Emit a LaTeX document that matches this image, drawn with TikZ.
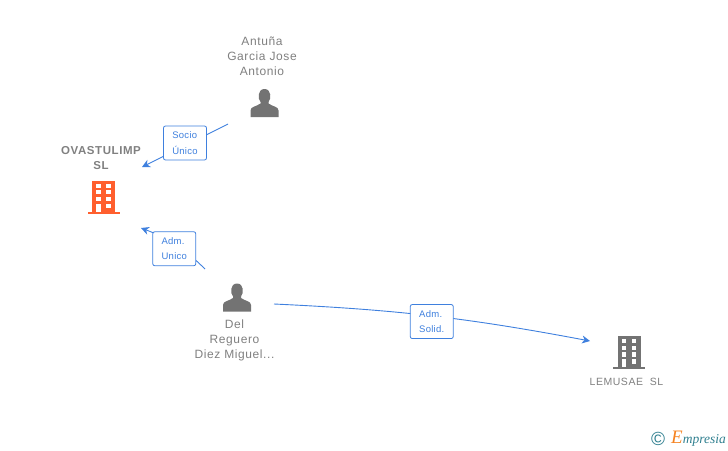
\documentclass[tikz,border=0pt]{standalone}
\usepackage{fontspec}
\setmainfont{Liberation Sans}[LetterSpace=5]
\newfontfamily\tagfont{Liberation Sans}[LetterSpace=3]
\newfontfamily\logofont{Liberation Serif}
\usetikzlibrary{positioning,arrows.meta}
\definecolor{linkblue}{HTML}{3F80DE}
\definecolor{namegray}{HTML}{808080}
\definecolor{icongray}{HTML}{737373}
\definecolor{firmorange}{HTML}{FF5F2E}
\definecolor{logoteal}{HTML}{2F7F8F}
\definecolor{logoorange}{HTML}{F58220}

\begin{document}
\begin{tikzpicture}[x=1pt,y=-1pt,font=\fontsize{12}{15}\selectfont]
        % Setup the styles
        \tikzset{name style/.style={align=center,
                                    text=namegray,
                                    inner sep=0pt},
                 firm style/.style={name style,
                                    font=\fontsize{11.5}{15}\selectfont\bfseries},
                 tag style/.style={draw=linkblue,
                                   fill=white,
                                   text=linkblue,
                                   line width=0.8pt,
                                   rounded corners=2pt,
                                   align=left,
                                   minimum width=43pt,
                                   minimum height=34pt,
                                   inner sep=0pt,
                                   font=\tagfont\fontsize{9.5}{15.5}\selectfont},
                 link style/.style={-{Stealth[length=8pt,width=8pt,inset=2.5pt]},
                                    line width=0.9pt,
                                    color=linkblue},
                 person/.pic={
                     \fill[icongray] (-14,14) -- (-14,7.5) .. controls (-14,3.5) and (-8,3.5) .. (-4,0.5)
                         -- (-4,-1) .. controls (-7,-4) and (-7,-14) .. (0,-14)
                         .. controls (7,-14) and (7,-4) .. (4,-1) -- (4,0.5)
                         .. controls (8,3.5) and (14,3.5) .. (14,7.5) -- (14,14) -- cycle;},
                 building/.pic={
                     \fill[pic actions] (-16,14.5) rectangle (16,16.5);
                     \fill[pic actions] (-11.5,-16.5) rectangle (11.5,15);
                     \foreach \wy in {-13.5,-6.8,-0.1} {
                         \fill[white] (-7.5,\wy) rectangle (-3,\wy+4.2);
                         \fill[white] (2.5,\wy) rectangle (7,\wy+4.2);
                     }
                     \fill[white] (-7.5,6.8) rectangle (-3,14.5);
                     \fill[white] (2.5,6.8) rectangle (7,11);}}

        \useasboundingbox (0,0) rectangle (728,450);

        % Draw the names
        \node[name style] at (262,56)    (antuna)     {Antuña\\Garcia Jose\\Antonio};
        \node[firm style] at (101,158)   (ovastulimp) {OVASTULIMP\\SL};
        \node[name style] at (234.5,340) (delreguero) {Del\\Reguero\\Diez Miguel...};
        \node[firm style,font=\fontsize{10.5}{15}\selectfont] at (626.5,382) (lemusae) {LEMUSAE\ \ SL};

        % Draw the icons
        \pic[] at (264.5,103) {person};
        \pic[] at (237,297.5) {person};
        \pic[fill=firmorange] at (103.5,197) {building};
        \pic[fill=icongray] at (629,352.5) {building};

        % Free ends of the arrows
        \coordinate (antuna out)     at (228,124);
        \coordinate (ovastulimp top) at (142,167);
        \coordinate (delreguero up)  at (205,269);
        \coordinate (ovastulimp low) at (141,228);
        \coordinate (delreguero out) at (274,304);
        \coordinate (lemusae in)     at (590,341);

        % Connect with arrows
        \path
            (antuna out)     edge[link style]            node[tag style,yshift=2.5pt] (socio) {Socio\\Único} (ovastulimp top)
            (delreguero up)  edge[link style,bend right=12] node[tag style,pos=.47,xshift=-3pt,yshift=-3pt] (admunico) {Adm.\\Unico} (ovastulimp low)
            (delreguero out) edge[link style,bend left=4] node[tag style,pos=.5,xshift=-1pt,yshift=-5.5pt] (admsolid) {Adm.\\Solid.} (lemusae in);

        % Logo
        \node[text=logoteal,inner sep=0pt,font=\fontsize{19}{15}\selectfont] at (658,439) (copyright) {©};
        \node[inner sep=0pt,anchor=west,font=\logofont\itshape\fontsize{13.5}{15}\selectfont,text=logoteal] at (671,439) (empresia)
            {{\color{logoorange}\fontsize{19}{15}\selectfont E}mpresia};
\end{tikzpicture}
\end{document}
